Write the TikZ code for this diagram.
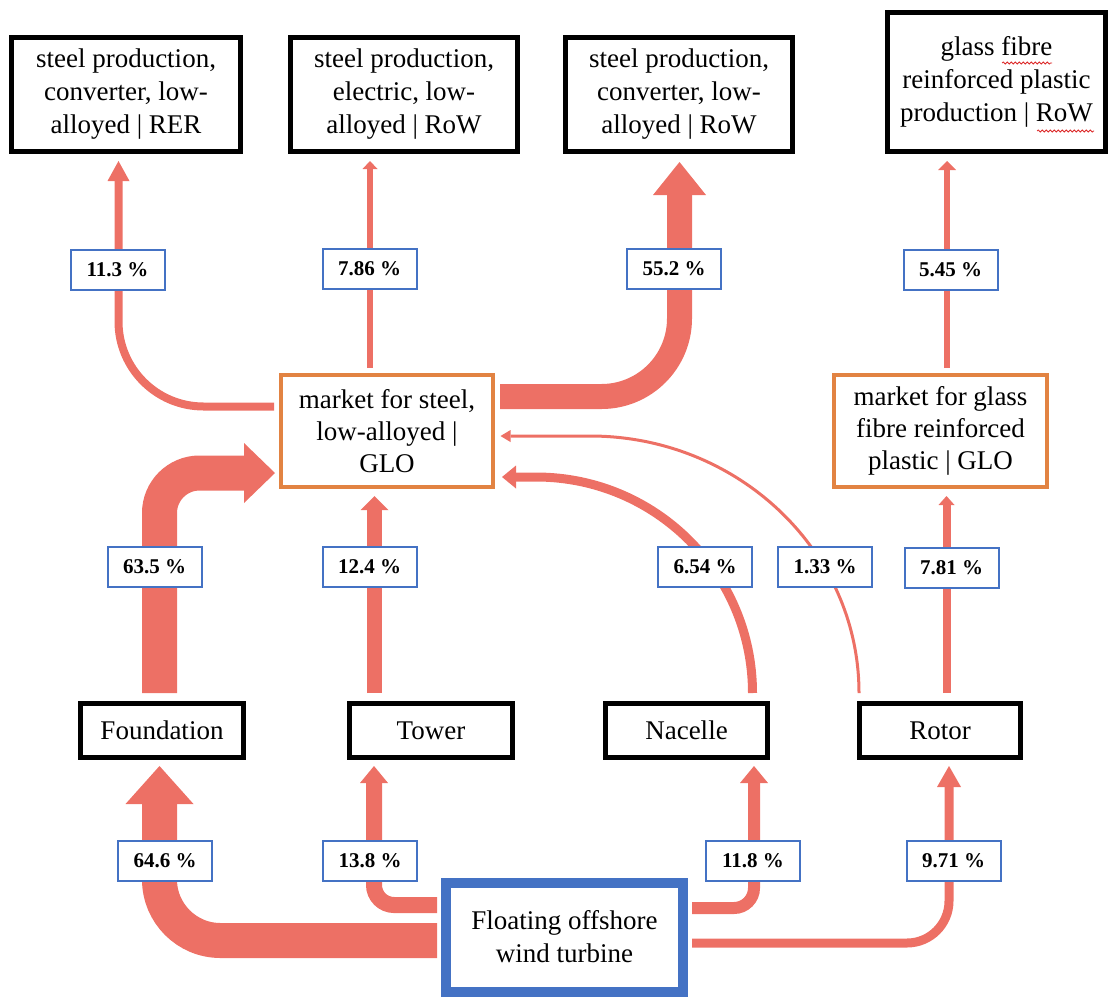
\documentclass[tikz,border=0pt]{standalone}
\usepackage{fontspec}
\setmainfont{Liberation Serif}
\usetikzlibrary{arrows.meta,decorations.pathmorphing}
\definecolor{flowc}{RGB}{237,112,101}
\definecolor{orangec}{RGB}{226,131,66}
\definecolor{bluec}{RGB}{68,114,196}
\definecolor{spellc}{RGB}{220,40,40}
\tikzset{
  tbox/.style={draw=black, line width=5pt, fill=white, align=center, inner sep=0pt,
    font=\fontsize{27}{33}\selectfont},
  mbox/.style={draw=orangec, line width=4pt, fill=white, align=center, inner sep=0pt,
    minimum width=212pt, minimum height=112pt, font=\fontsize{27}{32}\selectfont},
  lab/.style={draw=bluec, line width=2pt, fill=white, inner sep=0pt,
    minimum width=94pt, minimum height=40pt, font=\fontsize{21}{24}\selectfont\bfseries},
  flow/.style={draw=flowc, line cap=butt},
  tipw/.style 2 args={-{Triangle[width=#1,length=#2,line width=0pt]}},
}
\begin{document}
\begin{tikzpicture}[x=1pt,y=-1pt]
\useasboundingbox (0,0) rectangle (1111,999);
% top boxes
\node[tbox, minimum width=229pt, minimum height=114pt] (tA) at (126,94.5) {\rule{0pt}{6pt}steel production,\\converter, low-\\alloyed | RER};
\node[tbox, minimum width=227pt, minimum height=114pt] (tB) at (404,94.5) {\rule{0pt}{6pt}steel production,\\electric, low-\\alloyed | RoW};
\node[tbox, minimum width=227pt, minimum height=114pt] (tC) at (679,94.5) {\rule{0pt}{6pt}steel production,\\converter, low-\\alloyed | RoW};
\node[tbox, minimum width=218pt, minimum height=139pt] (tD) at (996.5,82) {glass fibre\\reinforced plastic\\production | RoW};
% markets
\node[mbox] (mS) at (387,431) {market for steel,\\low-alloyed |\\GLO};
\node[mbox, minimum width=213pt] (mG) at (940.5,431) {market for glass\\fibre reinforced\\plastic | GLO};
% components
\node[tbox, minimum width=163pt, minimum height=54pt] (cF) at (162,730.5) {Foundation};
\node[tbox, minimum width=163pt, minimum height=54pt] (cT) at (431,730.5) {Tower};
\node[tbox, minimum width=162pt, minimum height=54pt] (cN) at (686.5,730.5) {Nacelle};
\node[tbox, minimum width=161pt, minimum height=54pt] (cR) at (940,730.5) {Rotor};
% turbine
\node[tbox, draw=bluec, line width=10pt, minimum width=237pt, minimum height=109pt] (fl) at (564.5,937) {Floating offshore\\wind turbine};

% flows from turbine
\draw[flow, line width=35pt, tipw={68pt}{38pt}, rounded corners=61pt]
  ([xshift=-4pt,yshift=-3.5pt]fl.west) -| ([xshift=-2.5pt,yshift=-6pt]cF.south);
\draw[flow, line width=16pt, tipw={28pt}{17pt}, rounded corners=20pt]
  ([xshift=-4pt,yshift=32pt]fl.west) -| ([xshift=-57pt,yshift=-6pt]cT.south);
\draw[flow, line width=12pt, tipw={28pt}{17pt}, rounded corners=20pt]
  ([xshift=4pt,yshift=29pt]fl.east) -| ([xshift=67.5pt,yshift=-6pt]cN.south);
\draw[flow, line width=9pt, tipw={24pt}{21pt}, rounded corners=42pt]
  ([xshift=4pt,yshift=-6pt]fl.east) -| ([xshift=9pt,yshift=-6pt]cR.south);

% flows from components to markets
\draw[flow, line width=35pt, tipw={60pt}{31pt}, rounded corners=40pt]
  ([xshift=-2.5pt,yshift=8pt]cF.north) |- ([xshift=-4pt,yshift=-42pt]mS.west);
\draw[flow, line width=15pt, tipw={28pt}{14pt}]
  ([xshift=-56.5pt,yshift=8pt]cT.north) -- ([xshift=-12.5pt,yshift=-7pt]mS.south);
\draw[flow, line width=9pt, tipw={23pt}{14pt}]
  ([xshift=66pt,yshift=8pt]cN.north) .. controls +(0,-119) and +(120,0) ..
  ([xshift=41pt,yshift=-46pt]mS.east) -- ([xshift=7pt,yshift=-46pt]mS.east);
\draw[flow, line width=3pt, tipw={12pt}{10pt}]
  ([xshift=-81pt,yshift=8pt]cR.north) .. controls +(0,-142) and +(148,0) ..
  ([xshift=95pt,yshift=-5pt]mS.east) -- ([xshift=5.5pt,yshift=-5pt]mS.east);
\draw[flow, line width=8pt, tipw={16pt}{9pt}]
  ([xshift=6.5pt,yshift=8pt]cR.north) -- ([xshift=6pt,yshift=-7pt]mG.south);

% flows from markets to producers
\draw[flow, line width=8pt, tipw={22pt}{20pt}, rounded corners=85pt]
  ([xshift=-5pt,yshift=24.5pt]mS.west) -| ([xshift=-7.5pt,yshift=-7pt]tA.south);
\draw[flow, line width=6pt, tipw={15pt}{8pt}]
  ([xshift=-17pt,yshift=5pt]mS.north) -- ([xshift=-34pt,yshift=-7pt]tB.south);
\draw[flow, line width=25pt, tipw={53pt}{33pt}, rounded corners=78pt]
  ([xshift=5pt,yshift=34.5pt]mS.east) -| ([xshift=0.5pt,yshift=-8pt]tC.south);
\draw[flow, line width=6pt, tipw={18pt}{9pt}]
  ([xshift=6.5pt,yshift=5pt]mG.north) -- ([xshift=-49.5pt,yshift=-7pt]tD.south);

% labels
\node[lab] (l113) at (117.5,270) {11.3 \%};
\node[lab] (l786) at (369.5,269) {7.86 \%};
\node[lab] (l552) at (674,269) {55.2 \%};
\node[lab] (l545) at (950.5,270) {5.45 \%};
\node[lab] (l635) at (154.5,567) {63.5 \%};
\node[lab] (l124) at (369.5,567) {12.4 \%};
\node[lab] (l654) at (705,567) {6.54 \%};
\node[lab] (l133) at (825,567) {1.33 \%};
\node[lab] (l781) at (951.5,568) {7.81 \%};
\node[lab] (l646) at (165,861) {64.6 \%};
\node[lab] (l138) at (370,861) {13.8 \%};
\node[lab] (l118) at (753,861) {11.8 \%};
\node[lab] (l971) at (953.5,861) {9.71 \%};

% spell-check underlines
\draw[spellc, line width=0.8pt, decorate, decoration={snake, amplitude=1pt, segment length=4pt}]
  (1002,63) -- (1052,63);
\draw[spellc, line width=0.8pt, decorate, decoration={snake, amplitude=1pt, segment length=4pt}]
  (1037,131) -- (1094,131);
\end{tikzpicture}
\end{document}
